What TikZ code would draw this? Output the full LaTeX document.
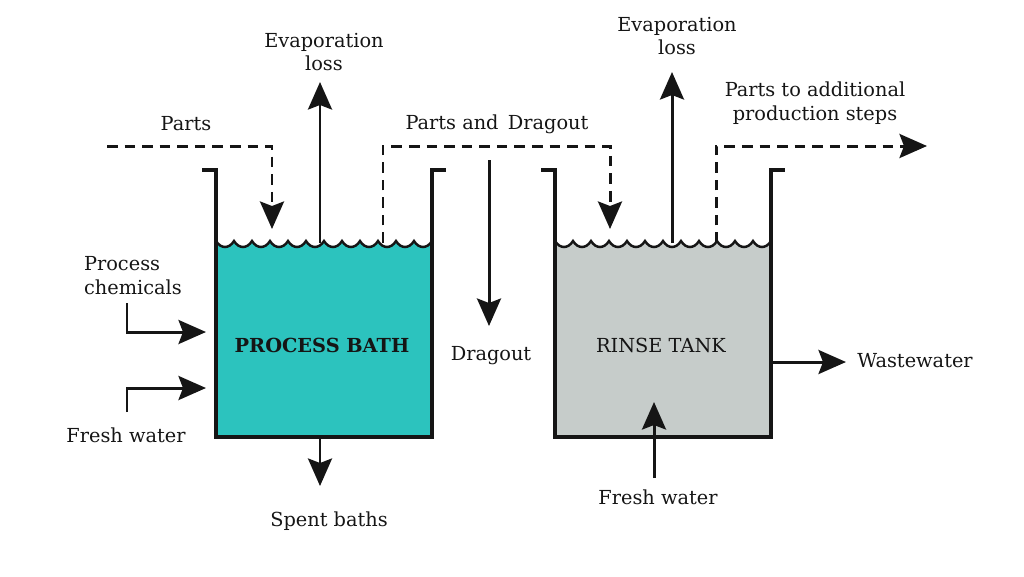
\documentclass[tikz,border=0pt]{standalone}
\usepackage{fontspec}
\setmainfont{DejaVu Serif}
\usetikzlibrary{arrows.meta,positioning}
\definecolor{bathteal}{HTML}{2CC3BE}
\definecolor{rinsegrey}{HTML}{C6CCCA}
\definecolor{inkdark}{HTML}{151515}

\begin{document}
\begin{tikzpicture}[x=0.02cm, y=-0.02cm,
  tankwall/.style={draw=inkdark, line width=2.2pt, line join=miter},
  waveline/.style={draw=inkdark, line width=1.4pt},
  flow/.style={-{Stealth[length=0.55cm, width=0.48cm, inset=0.09cm]}, draw=inkdark, line width=1.7pt},
  dashflow/.style={flow, dash pattern=on 6pt off 4pt},
  lbl/.style={text=inkdark, font=\fontsize{11}{13.6}\selectfont, align=center, inner sep=1pt}]
\useasboundingbox (0,0) rectangle (1024,576);

% process bath
\coordinate (bathNW) at (216,241);
\coordinate (bathNE) at (432,241);
\fill[bathteal] (216,437) -- (bathNW) \foreach \i in {1,...,12} { .. controls +(5,8) and +(-5,8) .. ({216+18*\i},241) } -- (432,437) -- cycle;
\draw[waveline] (bathNW) \foreach \i in {1,...,12} { .. controls +(5,8) and +(-5,8) .. ({216+18*\i},241) };
\draw[tankwall] (202,170) -- (216,170) -- (216,437) -- (432,437) -- (432,170) -- (446,170);
\node[lbl, font=\fontsize{11}{13.6}\selectfont\bfseries] (bath) at (322,345) {PROCESS BATH};

% rinse tank
\coordinate (rinseNW) at (555,241);
\fill[rinsegrey] (555,437) -- (rinseNW) \foreach \i in {1,...,12} { .. controls +(5,8) and +(-5,8) .. ({555+18*\i},241) } -- (771,437) -- cycle;
\draw[waveline] (rinseNW) \foreach \i in {1,...,12} { .. controls +(5,8) and +(-5,8) .. ({555+18*\i},241) };
\draw[tankwall] (541,170) -- (555,170) -- (555,437) -- (771,437) -- (771,170) -- (785,170);
\node[lbl] (rinse) at (661,345) {RINSE TANK};

% labels
\node[lbl] (evapA) at (324,52) {Evaporation\\loss};
\node[lbl] (evapB) at (677,36) {Evaporation\\loss};
\node[lbl] (parts) at (186,124) {Parts};
\node[lbl] (partsdrag) at (497,124) {Parts and\, Dragout};
\node[lbl] (partsnext) at (815,103) {Parts to additional\\production steps};
\node[lbl, align=left, anchor=west] (chem) at (82,276) {Process\\chemicals};
\node[lbl] (freshA) at (126,435) {Fresh water};
\node[lbl] (spent) at (329,521) {Spent baths};
\node[lbl] (dragout) at (491,356) {Dragout};
\node[lbl] (waste) at (915,361) {Wastewater};
\node[lbl] (freshB) at (658,497) {Fresh water};

% end points of the flows
\coordinate (evapAfoot) at (320,243);
\coordinate (evapAtip) at (320,82);
\coordinate (evapBfoot) at (672,243);
\coordinate (evapBtip) at (672,72);
\coordinate (spentfoot) at (320,437);
\coordinate (spenttip) at (320,486);
\coordinate (dragfoot) at (489,160);
\coordinate (dragtip) at (489,326);
\coordinate (wastefoot) at (771,362);
\coordinate (wastetip) at (846,362);
\coordinate (freshBfoot) at (654,478);
\coordinate (freshBtip) at (654,402);
\coordinate (chemfoot) at (127,303);
\coordinate (chemtip) at (206,332);
\coordinate (freshAfoot) at (127,412);
\coordinate (freshAtip) at (206,388);
\coordinate (partsfoot) at (107,146);
\coordinate (partstip) at (272,229);
\coordinate (pdfoot) at (383,243);
\coordinate (pdtip) at (610,229);
\coordinate (pnfoot) at (716,243);
\coordinate (pntip) at (927,146);

\draw[flow] (evapAfoot) -- (evapAtip);
\draw[flow] (evapBfoot) -- (evapBtip);
\draw[flow] (spentfoot) -- (spenttip);
\draw[flow] (dragfoot) -- (dragtip);
\draw[flow] (wastefoot) -- (wastetip);
\draw[flow] (freshBfoot) -- (freshBtip);
\draw[flow] (chemfoot) |- (chemtip);
\draw[flow] (freshAfoot) |- (freshAtip);
\draw[dashflow] (partsfoot) -| (partstip);
\draw[dashflow] (pdfoot) -- (383,146) -| (pdtip);
\draw[dashflow] (pnfoot) |- (pntip);
\end{tikzpicture}
\end{document}
